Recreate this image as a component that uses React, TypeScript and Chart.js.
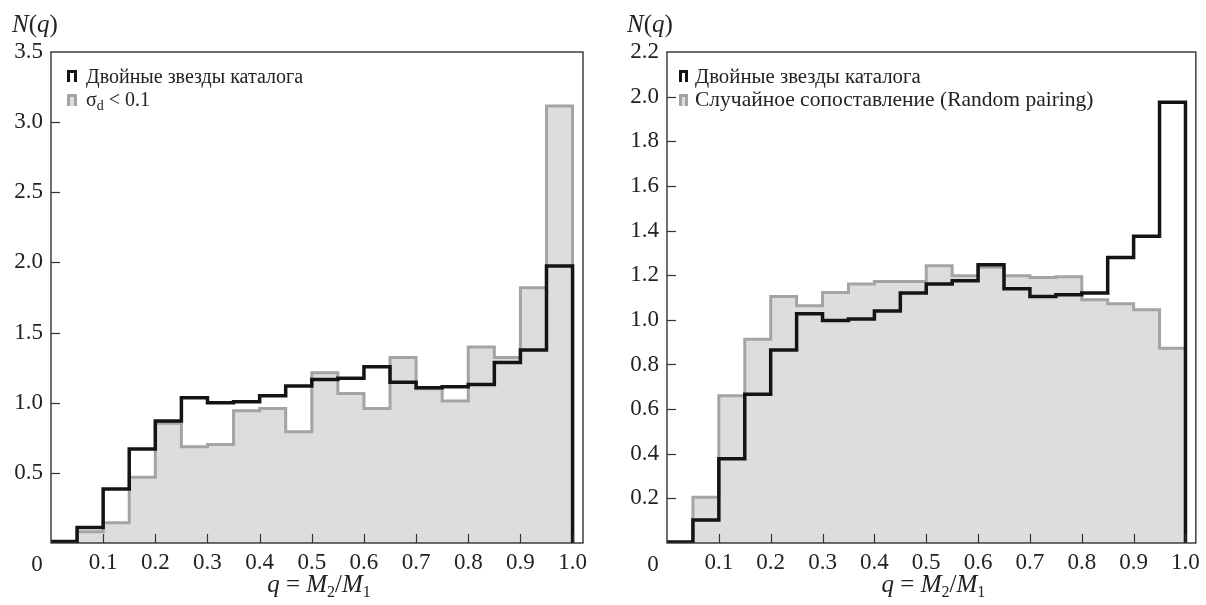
import React, { useEffect, useRef } from 'react';
import { Chart, registerables } from 'chart.js';

Chart.register(...registerables);

// ---------- data ----------
const binEdges = [0, 0.05, 0.1, 0.15, 0.2, 0.25, 0.3, 0.35, 0.4, 0.45, 0.5, 0.55, 0.6, 0.65, 0.7, 0.75, 0.8, 0.85, 0.9, 0.95, 1.0];
const xTickValues = [0, 0.1, 0.2, 0.3, 0.4, 0.5, 0.6, 0.7, 0.8, 0.9, 1.0];
const leftYTicks = [0, 0.5, 1.0, 1.5, 2.0, 2.5, 3.0, 3.5];
const rightYTicks = [0, 0.2, 0.4, 0.6, 0.8, 1.0, 1.2, 1.4, 1.6, 1.8, 2.0, 2.2];

const leftCatalog = [0.01, 0.11, 0.385, 0.67, 0.87, 1.035, 1.0, 1.006, 1.05, 1.12, 1.165, 1.175, 1.256, 1.145, 1.106, 1.113, 1.13, 1.287, 1.375, 1.975];
const leftSigma = [0, 0.08, 0.145, 0.468, 0.853, 0.686, 0.703, 0.942, 0.959, 0.793, 1.213, 1.066, 0.959, 1.323, 1.1, 1.013, 1.398, 1.323, 1.82, 3.115];
const rightCatalog = [0.005, 0.103, 0.377, 0.667, 0.865, 1.027, 0.997, 1.004, 1.04, 1.12, 1.161, 1.175, 1.247, 1.139, 1.105, 1.112, 1.12, 1.279, 1.374, 1.975];
const rightRandom = [0, 0.205, 0.66, 0.913, 1.105, 1.063, 1.122, 1.16, 1.172, 1.172, 1.242, 1.197, 1.235, 1.197, 1.19, 1.193, 1.09, 1.072, 1.045, 0.873];

const legendCatalog = 'Двойные звезды каталога';
const legendSigma = ['σ', 'd', ' < 0.1'];
const legendRandom = 'Случайное сопоставление (Random pairing)';

// ---------- styling ----------
const FONT = '"Liberation Serif", "Times New Roman", serif';
const TEXT = '#222';
const BLACK = '#141414';
const GRAY_LINE = '#a4a4a4';
const GRAY_FILL = '#dcdddd';

type Run = { t: string; font: string; dy?: number };

function drawRuns(ctx: CanvasRenderingContext2D, x: number, y: number, runs: Run[], align: 'left' | 'center' = 'left') {
  let total = 0;
  for (const r of runs) {
    ctx.font = r.font;
    total += ctx.measureText(r.t).width;
  }
  let cx = align === 'center' ? x - total / 2 : x;
  ctx.textAlign = 'left';
  ctx.textBaseline = 'alphabetic';
  for (const r of runs) {
    ctx.font = r.font;
    ctx.fillText(r.t, cx, y + (r.dy || 0));
    cx += ctx.measureText(r.t).width;
  }
}

function stepPoints(vals: number[]) {
  const pts = vals.map((v, i) => ({ x: binEdges[i], y: v }));
  pts.push({ x: binEdges[binEdges.length - 1], y: vals[vals.length - 1] });
  pts.push({ x: binEdges[binEdges.length - 1], y: 0 });
  return pts;
}

function drawIcon(ctx: CanvasRenderingContext2D, x: number, y: number, w: number, h: number, kind: 'black' | 'gray') {
  ctx.save();
  if (kind === 'gray') {
    ctx.fillStyle = GRAY_FILL;
    ctx.fillRect(x, y, w, h);
    ctx.strokeStyle = GRAY_LINE;
  } else {
    ctx.strokeStyle = BLACK;
  }
  ctx.lineWidth = 3;
  ctx.beginPath();
  ctx.moveTo(x + 1.5, y + h);
  ctx.lineTo(x + 1.5, y + 1.5);
  ctx.lineTo(x + w - 1.5, y + 1.5);
  ctx.lineTo(x + w - 1.5, y + h);
  ctx.stroke();
  ctx.restore();
}

type Cfg = {
  yTicks: number[];
  yMax: number;
  decimals: number;
  yAxisWidth: number;
  rightPad: number;
  nqX: number;
  iconX: number;
  iconW: number;
  textX: number;
  row1Font: string;
  row2: Run[];
  catalog: number[];
  second: number[];
};

function makeDecor(cfg: Cfg) {
  return {
    id: 'decor',
    afterDraw(chart: any) {
      const { ctx, chartArea: a, scales } = chart;
      const xs = scales.x;
      const ys = scales.y;
      ctx.save();
      // inward ticks
      ctx.strokeStyle = '#333';
      ctx.lineWidth = 1.2;
      for (const v of cfg.yTicks) {
        if (v <= 0 || v >= cfg.yMax) continue;
        const y = Math.round(ys.getPixelForValue(v)) + 0.5;
        ctx.beginPath();
        ctx.moveTo(a.left, y);
        ctx.lineTo(a.left + 9, y);
        ctx.stroke();
      }
      for (const v of xTickValues) {
        if (v <= 0) continue;
        const x = Math.round(xs.getPixelForValue(v)) + 0.5;
        ctx.beginPath();
        ctx.moveTo(x, a.bottom);
        ctx.lineTo(x, a.bottom - 9);
        ctx.stroke();
      }
      // frame
      ctx.strokeStyle = '#333';
      ctx.lineWidth = 1.4;
      ctx.strokeRect(a.left, a.top, a.right - a.left, a.bottom - a.top);

      ctx.fillStyle = TEXT;
      // corner "0"
      ctx.font = `23px ${FONT}`;
      ctx.textAlign = 'center';
      ctx.textBaseline = 'alphabetic';
      ctx.fillText('0', a.left - 14, a.bottom + 28);

      // N(q)
      const it = `italic 25px ${FONT}`;
      const rg = `25px ${FONT}`;
      drawRuns(ctx, cfg.nqX, 32, [
        { t: 'N', font: it },
        { t: '(', font: rg },
        { t: 'q', font: it },
        { t: ')', font: rg },
      ]);

      // x title
      const sub = `16px ${FONT}`;
      drawRuns(
        ctx,
        (a.left + a.right) / 2 + 2,
        592,
        [
          { t: 'q', font: it },
          { t: ' = ', font: rg },
          { t: 'M', font: it },
          { t: '2', font: sub, dy: 5 },
          { t: '/', font: rg },
          { t: 'M', font: it },
          { t: '1', font: sub, dy: 5 },
        ],
        'center'
      );

      // legend
      drawIcon(ctx, cfg.iconX, 70, cfg.iconW, 12, 'black');
      ctx.fillStyle = TEXT;
      drawRuns(ctx, cfg.textX, 83, [{ t: legendCatalog, font: cfg.row1Font }]);
      drawIcon(ctx, cfg.iconX, 94, cfg.iconW, 12, 'gray');
      ctx.fillStyle = TEXT;
      drawRuns(ctx, cfg.textX, 106, cfg.row2);
      ctx.restore();
    },
  };
}

function buildConfig(cfg: Cfg): any {
  const tickFont = { family: FONT, size: 23 };
  return {
    type: 'line',
    data: {
      datasets: [
        {
          data: stepPoints(cfg.catalog),
          stepped: 'before',
          borderColor: BLACK,
          borderWidth: 3.5,
          pointRadius: 0,
          fill: false,
          order: 0,
        },
        {
          data: stepPoints(cfg.second),
          stepped: 'before',
          borderColor: GRAY_LINE,
          borderWidth: 3,
          backgroundColor: GRAY_FILL,
          fill: 'origin',
          pointRadius: 0,
          order: 1,
        },
      ],
    },
    options: {
      animation: false,
      responsive: false,
      events: [],
      layout: { padding: { top: 52, right: cfg.rightPad, left: 0, bottom: 0 } },
      plugins: { legend: { display: false }, tooltip: { enabled: false } },
      scales: {
        x: {
          type: 'linear',
          min: 0,
          max: 1.02,
          afterBuildTicks: (s: any) => {
            s.ticks = xTickValues.map((v) => ({ value: v }));
          },
          afterFit: (s: any) => {
            s.height = 62;
          },
          ticks: {
            font: tickFont,
            color: TEXT,
            padding: 6,
            maxRotation: 0,
            autoSkip: false,
            callback: (v: number) => (v === 0 ? '' : v.toFixed(1)),
          },
          grid: { display: false, drawTicks: false },
          border: { display: false },
        },
        y: {
          type: 'linear',
          min: 0,
          max: cfg.yMax,
          afterBuildTicks: (s: any) => {
            s.ticks = cfg.yTicks.map((v) => ({ value: v }));
          },
          afterFit: (s: any) => {
            s.width = cfg.yAxisWidth;
          },
          ticks: {
            font: tickFont,
            color: TEXT,
            padding: 8,
            autoSkip: false,
            callback: (v: number) => (v === 0 ? '' : v.toFixed(cfg.decimals)),
          },
          grid: { display: false, drawTicks: false },
          border: { display: false },
        },
      },
    },
    plugins: [makeDecor(cfg)],
  };
}

function HistChart({ cfg, width, left }: { cfg: Cfg; width: number; left: number }) {
  const ref = useRef<HTMLCanvasElement | null>(null);
  useEffect(() => {
    if (!ref.current) return;
    const chart = new Chart(ref.current, buildConfig(cfg));
    return () => chart.destroy();
  }, []);
  return (
    <canvas
      ref={ref}
      width={width}
      height={605}
      style={{ position: 'absolute', left, top: 0, width, height: 605 }}
    />
  );
}

const leftCfg: Cfg = {
  yTicks: leftYTicks,
  yMax: 3.5,
  decimals: 1,
  yAxisWidth: 51,
  rightPad: 17,
  nqX: 12,
  iconX: 67,
  iconW: 10,
  textX: 86,
  row1Font: `20px ${FONT}`,
  row2: [
    { t: legendSigma[0], font: `20px ${FONT}` },
    { t: legendSigma[1], font: `14px ${FONT}`, dy: 4 },
    { t: legendSigma[2], font: `20px ${FONT}` },
  ],
  catalog: leftCatalog,
  second: leftSigma,
};

const rightCfg: Cfg = {
  yTicks: rightYTicks,
  yMax: 2.2,
  decimals: 1,
  yAxisWidth: 67,
  rightPad: 8,
  nqX: 27,
  iconX: 79,
  iconW: 9,
  textX: 95,
  row1Font: `20.8px ${FONT}`,
  row2: [{ t: legendRandom, font: `21.5px ${FONT}` }],
  catalog: rightCatalog,
  second: rightRandom,
};

export default function App() {
  return (
    <div style={{ position: 'fixed', left: 0, top: 0, width: 1206, height: 605, background: '#fff' }}>
      <HistChart cfg={leftCfg} width={600} left={0} />
      <HistChart cfg={rightCfg} width={606} left={600} />
    </div>
  );
}
